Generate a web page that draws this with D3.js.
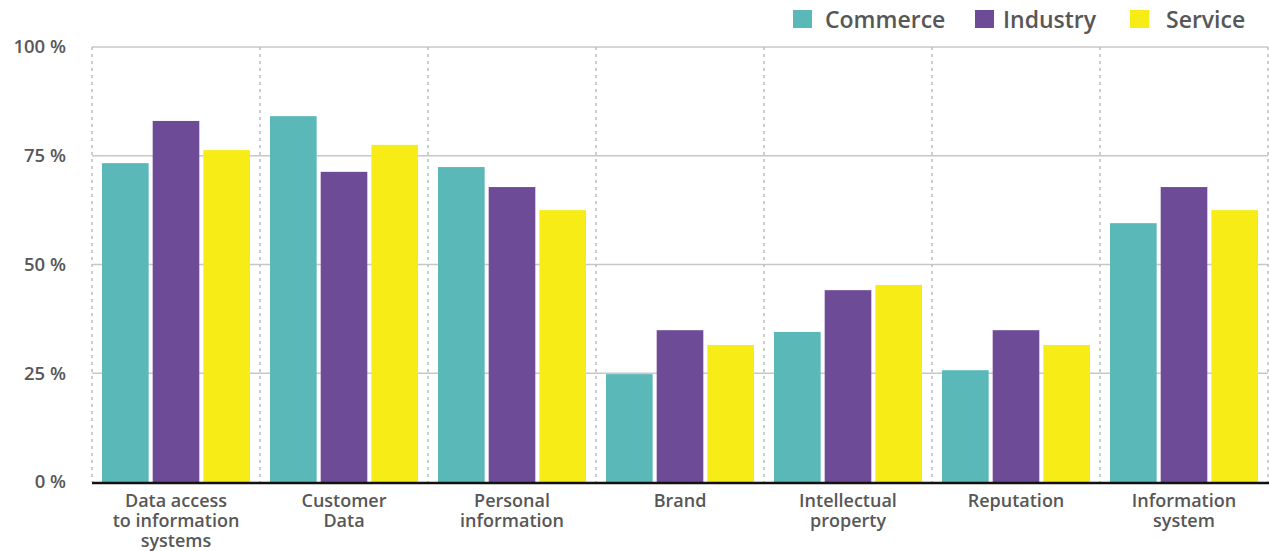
<!DOCTYPE html>
<html>
<head>
<meta charset="utf-8">
<script src="https://cdn.jsdelivr.net/npm/d3@7"></script>
<style>
  body { margin: 0; background: #fff; }
  text { font-family: "Open Sans", "Lato", sans-serif; fill: #575757; }
</style>
</head>
<body>
<svg id="chart"></svg>
<script>
// data
let categories = [
    ['Data access', 'to information', 'systems'],
    ['Customer', 'Data'],
    ['Personal', 'information'],
    ['Brand'],
    ['Intellectual', 'property'],
    ['Reputation'],
    ['Information', 'system']
]
let seriesNames = ['Commerce', 'Industry', 'Service']
let commerce = [73.3, 84.1, 72.4, 24.8, 34.5, 25.7, 59.5]
let industry = [83.0, 71.3, 67.8, 34.9, 44.1, 34.9, 67.8]
let service = [76.3, 77.5, 62.5, 31.5, 45.3, 31.5, 62.5]
let yTicks = [0, 25, 50, 75, 100]

let colors = ['#5bb8b8', '#6e4b96', '#f7ec15']

let width = 1269
let height = 551
let plotLeft = 92
let plotRight = 1268
let plotTop = 47
let plotBottom = 482

let svg = d3.select('#chart')
svg.attr('width', width).attr('height', height)

let keys = categories.map((c, i) => i)

let xScale = d3.scaleBand()
    .domain(keys)
    .range([plotLeft, plotRight])

let xInner = d3.scaleBand()
    .domain(seriesNames)
    .range([10, xScale.bandwidth() - 10])
    .paddingInner(0.08)

let yScale = d3.scaleLinear()
    .domain([0, 100])
    .range([plotBottom, plotTop])

// horizontal gridlines
svg.append('g')
    .selectAll('line')
    .data(yTicks.filter(t => t > 0))
    .enter()
    .append('line')
    .attr('x1', plotLeft)
    .attr('x2', plotRight)
    .attr('y1', d => yScale(d))
    .attr('y2', d => yScale(d))
    .attr('stroke', '#c8c8c8')
    .attr('stroke-width', 1.3)

// dotted separators
let seps = keys.map(k => xScale(k)).concat([plotRight])
svg.append('g')
    .selectAll('line')
    .data(seps)
    .enter()
    .append('line')
    .attr('x1', d => d)
    .attr('x2', d => d)
    .attr('y1', plotTop)
    .attr('y2', plotBottom)
    .attr('stroke', '#bdbdbd')
    .attr('stroke-width', 1.5)
    .attr('stroke-dasharray', '3,4')

// bars
let series = [commerce, industry, service]
series.forEach((vals, si) => {
    svg.append('g')
        .selectAll('rect')
        .data(vals)
        .enter()
        .append('rect')
        .attr('x', (d, i) => xScale(i) + xInner(seriesNames[si]))
        .attr('y', d => yScale(d))
        .attr('width', xInner.bandwidth())
        .attr('height', d => plotBottom - yScale(d))
        .attr('fill', colors[si])
})

// baseline
svg.append('line')
    .attr('x1', plotLeft)
    .attr('x2', plotRight + 1)
    .attr('y1', plotBottom + 1)
    .attr('y2', plotBottom + 1)
    .attr('stroke', '#111')
    .attr('stroke-width', 2.5)

// y axis labels
let yAxis = d3.axisLeft(yScale)
    .tickValues(yTicks)
    .tickSize(0)
    .tickPadding(0)
    .tickFormat(d => d + ' %')

let yg = svg.append('g')
    .attr('transform', 'translate(66, 0)')
    .call(yAxis)
yg.select('.domain').remove()
yg.selectAll('text')
    .style('font-family', '"Open Sans", sans-serif')
    .style('font-size', '18.5px')
    .style('font-weight', '600')
    .attr('fill', '#575757')

// category labels
let catG = svg.append('g')
    .selectAll('text')
    .data(categories)
    .enter()
    .append('text')
    .attr('text-anchor', 'middle')
    .attr('x', (d, i) => xScale(i) + xScale.bandwidth() / 2)
    .attr('y', 507)
    .style('font-size', '18px')
    .style('font-weight', '600')

catG.selectAll('tspan')
    .data(d => d)
    .enter()
    .append('tspan')
    .attr('x', function () { return d3.select(this.parentNode).attr('x') })
    .attr('dy', (d, i) => i === 0 ? 0 : 20)
    .text(d => d)

// legend
let legendX = [793, 975, 1130]
let legendTextX = [825, 1003, 1166]
let legend = svg.append('g')
    .selectAll('g')
    .data(seriesNames)
    .enter()
    .append('g')

legend.append('rect')
    .attr('x', (d, i) => legendX[i])
    .attr('y', 10)
    .attr('width', 19)
    .attr('height', 18)
    .attr('fill', (d, i) => colors[i])

legend.append('text')
    .attr('x', (d, i) => legendTextX[i])
    .attr('y', 27.5)
    .style('font-size', '23px')
    .style('font-weight', '600')
    .text(d => d)
</script>
</body>
</html>
